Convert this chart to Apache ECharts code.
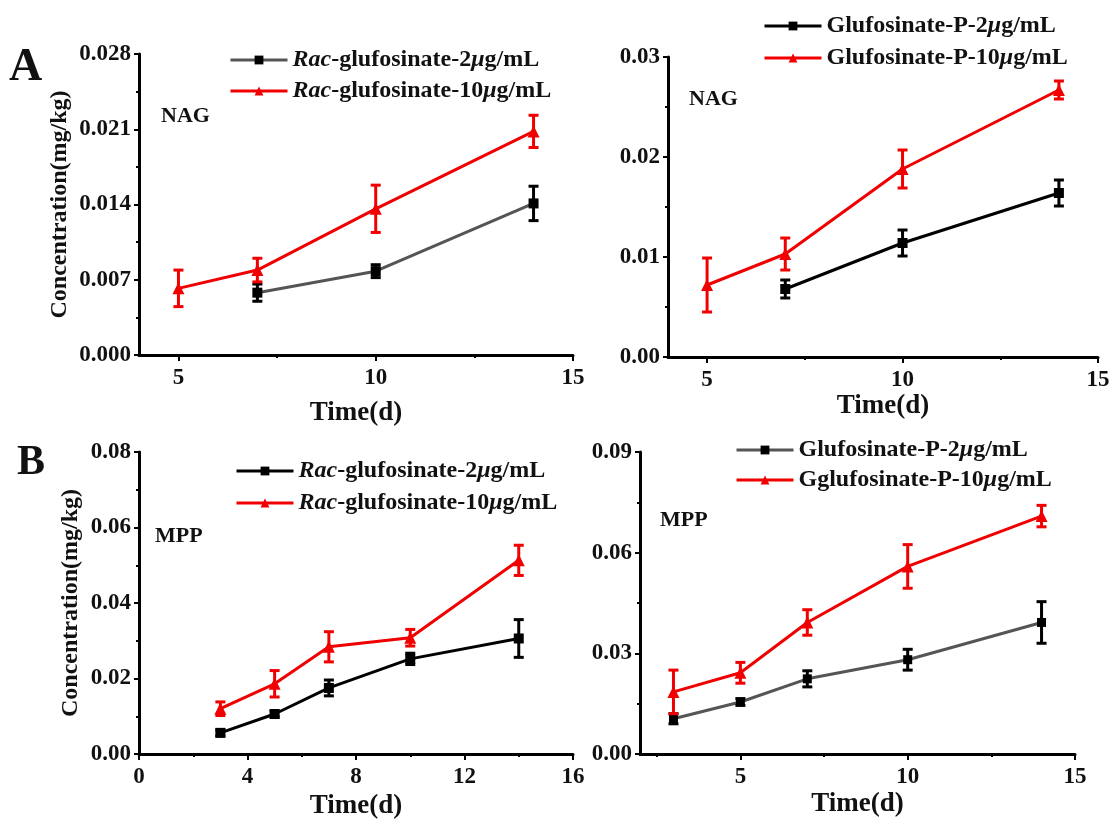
<!DOCTYPE html>
<html>
<head>
<meta charset="utf-8">
<title>Glufosinate NAG / MPP</title>
<script src="https://cdn.jsdelivr.net/npm/echarts@6/dist/echarts.min.js"></script>
<style>
  html, body { margin: 0; padding: 0; background: #fff; }
  #chart { width: 1113px; height: 824px; }
</style>
</head>
<body>
<div id="chart"></div>
<script>
    // ---- data ----
    // A: NAG
    var nagDays2 = [7, 10, 14];
    var nagDays10 = [5, 7, 10, 14];
    var racNag2 = [0.0058, 0.0078, 0.0141];
    var racNag2Sd = [0.0008, 0.0006, 0.0016];
    var racNag10 = [0.0062, 0.0079, 0.0136, 0.0208];
    var racNag10Sd = [0.0017, 0.0011, 0.0022, 0.0015];
    var pNag2 = [0.0068, 0.0114, 0.0164];
    var pNag2Sd = [0.0009, 0.0013, 0.0013];
    var pNag10 = [0.0072, 0.0103, 0.0188, 0.0267];
    var pNag10Sd = [0.0027, 0.0016, 0.0019, 0.0009];
    // B: MPP
    var mppDays = [3, 5, 7, 10, 14];
    var racMpp2 = [0.0056, 0.0106, 0.0175, 0.0252, 0.0306];
    var racMpp2Sd = [0.0008, 0.0008, 0.0021, 0.0015, 0.0050];
    var racMpp10 = [0.0120, 0.0186, 0.0284, 0.0308, 0.0513];
    var racMpp10Sd = [0.0018, 0.0035, 0.0040, 0.0022, 0.0040];
    var pMpp2 = [0.0105, 0.0155, 0.0224, 0.0281, 0.0392];
    var pMpp2Sd = [0.0015, 0.0010, 0.0024, 0.0031, 0.0062];
    var pMpp10 = [0.0185, 0.0242, 0.0392, 0.0559, 0.0709];
    var pMpp10Sd = [0.0065, 0.0031, 0.0038, 0.0065, 0.0032];

    // tick labels
    var xTicksA = [5, 10, 15];
    var xMinorA = [7.5, 12.5];
    var xTicksBR = [5, 10, 15];
    var xMinorBR = [2.5, 7.5, 12.5];

    // legend text
    var legendNames = {
        racNag2: '{i|Rac}-glufosinate-2{i|μ}g/mL',
        racNag10: '{i|Rac}-glufosinate-10{i|μ}g/mL',
        pNag2: 'Glufosinate-P-2{i|μ}g/mL',
        pNag10: 'Glufosinate-P-10{i|μ}g/mL',
        racMpp2: '{i|Rac}-glufosinate-2{i|μ}g/mL',
        racMpp10: '{i|Rac}-glufosinate-10{i|μ}g/mL',
        pMpp2: 'Glufosinate-P-2{i|μ}g/mL',
        pMpp10: 'Gglufosinate-P-10{i|μ}g/mL'
    };

    var FONT = '"Liberation Serif", "Times New Roman", serif';
    var RED = '#f00000';

    function pts(days, vals) {
        return days.map(function (d, i) { return [d, vals[i]]; });
    }
    function errs(days, vals, sd) {
        return days.map(function (d, i) { return [d, vals[i] - sd[i], vals[i] + sd[i]]; });
    }

    function lineSeries(name, idx, days, vals, lineColor, markColor, symbol, size) {
        return {
            name: name, type: 'line', xAxisIndex: idx, yAxisIndex: idx,
            data: pts(days, vals),
            symbol: symbol, symbolSize: size,
            lineStyle: { color: lineColor, width: 3 },
            itemStyle: { color: markColor },
            z: 3
        };
    }

    function errSeries(idx, days, vals, sd, color) {
        return {
            type: 'custom', xAxisIndex: idx, yAxisIndex: idx,
            data: errs(days, vals, sd),
            renderItem: function (params, api) {
                var top = api.coord([api.value(0), api.value(2)]);
                var bot = api.coord([api.value(0), api.value(1)]);
                var w = 5;
                var st = { stroke: color, lineWidth: 3 };
                return {
                    type: 'group',
                    children: [
                        { type: 'line', shape: { x1: top[0], y1: top[1], x2: bot[0], y2: bot[1] }, style: st },
                        { type: 'line', shape: { x1: top[0] - w, y1: top[1], x2: top[0] + w, y2: top[1] }, style: st },
                        { type: 'line', shape: { x1: bot[0] - w, y1: bot[1], x2: bot[0] + w, y2: bot[1] }, style: st }
                    ]
                };
            },
            z: 4,
            silent: true
        };
    }

    var axisLineStyle = { color: '#000', width: 3 };
    var labelStyle = { color: '#111', fontFamily: FONT, fontWeight: 'bold', fontSize: 23 };

    function xMain(idx, min, max, opts) {
        var ax = {
            type: 'value', gridIndex: idx, min: min, max: max, position: 'bottom',
            splitLine: { show: false },
            axisLine: { onZero: false, lineStyle: axisLineStyle },
            axisTick: { length: 6, lineStyle: { width: 2, color: '#000' } },
            axisLabel: Object.assign({ margin: 12 }, labelStyle),
            name: 'Time(d)', nameLocation: 'middle', nameGap: opts.nameGap,
            nameTextStyle: { color: '#111', fontFamily: FONT, fontWeight: 'bold', fontSize: 27 }
        };
        if (opts.ticks) {
            ax.axisLabel.customValues = opts.ticks;
            ax.axisTick.customValues = opts.ticks;
        }
        if (opts.interval) {
            ax.interval = opts.interval;
            ax.minorTick = { show: true, splitNumber: 2, length: 3, lineStyle: { width: 2, color: '#000' } };
        }
        return ax;
    }
    function xMinor(idx, min, max, minor) {
        return {
            type: 'value', gridIndex: idx, min: min, max: max, position: 'bottom',
            splitLine: { show: false },
            axisLine: { show: false },
            axisTick: { customValues: minor, length: 3, lineStyle: { width: 2, color: '#000' } },
            axisLabel: { show: false }
        };
    }
    function yAxis(idx, max, interval, digits, title, nameGap) {
        var ax = {
            type: 'value', gridIndex: idx, min: 0, max: max, interval: interval,
            splitLine: { show: false },
            axisLine: { show: true, lineStyle: axisLineStyle },
            axisTick: { show: true, length: 5, lineStyle: { width: 2, color: '#000' } },
            minorTick: { show: true, splitNumber: 2, length: 3, lineStyle: { width: 2, color: '#000' } },
            axisLabel: Object.assign({ margin: 8, formatter: function (v) { return v.toFixed(digits); } }, labelStyle)
        };
        if (title) {
            ax.name = title;
            ax.nameLocation = 'middle';
            ax.nameGap = nameGap;
            ax.nameTextStyle = { color: '#111', fontFamily: FONT, fontWeight: 'bold', fontSize: 24 };
        }
        return ax;
    }

    function legend(names, left, top, gap) {
        return {
            orient: 'vertical', left: left, top: top, padding: 0,
            itemWidth: 57, itemHeight: 11, itemGap: gap,
            data: names,
            lineStyle: { width: 3 },
            formatter: function (n) { return legendNames[n]; },
            textStyle: {
                color: '#111', fontFamily: FONT, fontWeight: 'bold', fontSize: 24, lineHeight: 24,
                rich: { i: { fontStyle: 'italic', fontFamily: FONT, fontWeight: 'bold', fontSize: 24, color: '#111' } }
            }
        };
    }

    function label(text, x, y, size) {
        return {
            type: 'text', left: x, top: y,
            style: { text: text, fill: '#111', font: 'bold ' + size + 'px ' + FONT }
        };
    }

    var chart = echarts.init(document.getElementById('chart'));
    var option = {
        backgroundColor: '#fff',
        animation: false,
        grid: [
            { left: 139, top: 54, width: 434, height: 301 },
            { left: 668, top: 57, width: 430, height: 300 },
            { left: 139, top: 452, width: 434, height: 302 },
            { left: 640, top: 452, width: 435, height: 302 }
        ],
        xAxis: [
            xMain(0, 4, 15, { ticks: xTicksA, nameGap: 45 }),
            xMain(1, 4, 15, { ticks: xTicksA, nameGap: 33 }),
            xMain(2, 0, 16, { interval: 4, nameGap: 39 }),
            xMain(3, 2, 15, { ticks: xTicksBR, nameGap: 37 }),
            xMinor(0, 4, 15, xMinorA),
            xMinor(1, 4, 15, xMinorA),
            xMinor(3, 2, 15, xMinorBR)
        ],
        yAxis: [
            yAxis(0, 0.028, 0.007, 3, 'Concentration(mg/kg)', 67),
            yAxis(1, 0.03, 0.01, 2),
            yAxis(2, 0.08, 0.02, 2, 'Concentration(mg/kg)', 56),
            yAxis(3, 0.09, 0.03, 2)
        ],
        legend: [
            legend(['racNag2', 'racNag10'], 229, 48, 7),
            legend(['pNag2', 'pNag10'], 763, 14, 8),
            legend(['racMpp2', 'racMpp10'], 235, 459, 8),
            legend(['pMpp2', 'pMpp10'], 735, 438, 6)
        ],
        graphic: [
            label('A', 9, 45, 46),
            label('B', 17, 442, 42),
            label('NAG', 161, 105, 22),
            label('NAG', 689, 88, 22),
            label('MPP', 155, 525, 22),
            label('MPP', 660, 509, 22)
        ],
        series: [
            lineSeries('racNag2', 0, nagDays2, racNag2, '#555', '#000', 'rect', 10),
            lineSeries('racNag10', 0, nagDays10, racNag10, RED, RED, 'triangle', 12),
            errSeries(0, nagDays2, racNag2, racNag2Sd, '#000'),
            errSeries(0, nagDays10, racNag10, racNag10Sd, RED),

            lineSeries('pNag2', 1, nagDays2, pNag2, '#000', '#000', 'rect', 10),
            lineSeries('pNag10', 1, nagDays10, pNag10, RED, RED, 'triangle', 12),
            errSeries(1, nagDays2, pNag2, pNag2Sd, '#000'),
            errSeries(1, nagDays10, pNag10, pNag10Sd, RED),

            lineSeries('racMpp2', 2, mppDays, racMpp2, '#000', '#000', 'rect', 10),
            lineSeries('racMpp10', 2, mppDays, racMpp10, RED, RED, 'triangle', 12),
            errSeries(2, mppDays, racMpp2, racMpp2Sd, '#000'),
            errSeries(2, mppDays, racMpp10, racMpp10Sd, RED),

            lineSeries('pMpp2', 3, mppDays, pMpp2, '#555', '#000', 'rect', 9),
            lineSeries('pMpp10', 3, mppDays, pMpp10, RED, RED, 'triangle', 12),
            errSeries(3, mppDays, pMpp2, pMpp2Sd, '#000'),
            errSeries(3, mppDays, pMpp10, pMpp10Sd, RED)
        ]
    };
    chart.setOption(option);
</script>
</body>
</html>
